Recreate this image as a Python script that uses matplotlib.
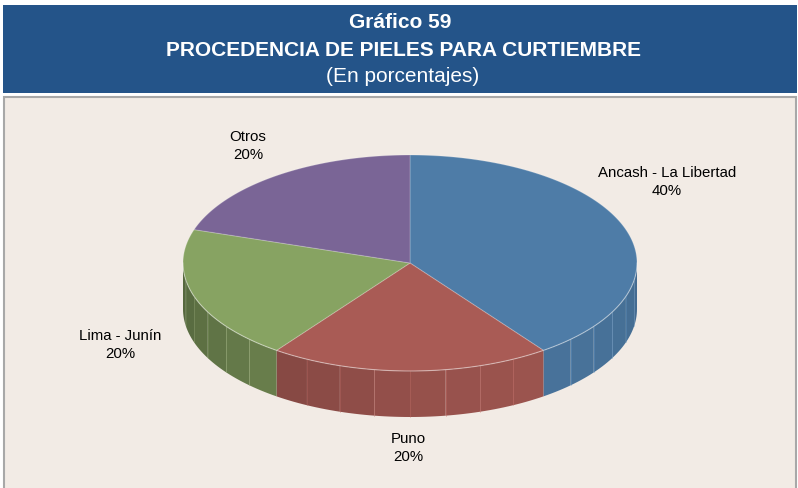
import numpy as np
import matplotlib
matplotlib.use("Agg")
import matplotlib.pyplot as plt
from matplotlib.patches import Rectangle, Polygon

plt.rcParams['font.family'] = ['Liberation Sans', 'DejaVu Sans']

# data
regions = ["Ancash - La Libertad", "Puno", "Lima - Junín", "Otros"]
shares = [40, 20, 20, 20]
top_colors = ["#4e7ca7", "#a95b55", "#87a362", "#7a6596"]
label_pos = [(667, 182), (408, 448), (120, 345), (248, 146)]

title_lines = ["Gráfico 59", "PROCEDENCIA DE PIELES PARA CURTIEMBRE", "(En porcentajes)"]

W, H = 798, 488
fig = plt.figure(figsize=(W / 100, H / 100), dpi=100)
ax = fig.add_axes([0, 0, 1, 1])
ax.set_xlim(0, W)
ax.set_ylim(H, 0)
ax.axis("off")

# header band and chart panel
ax.add_patch(Rectangle((3, 5), W - 4, 88, facecolor="#245489", edgecolor="none"))
ax.add_patch(Rectangle((4, 96.5), W - 6, H, facecolor="#f2ebe5",
                       edgecolor="#a8a8a8", linewidth=1.5))
ax.text(400, 23, title_lines[0], ha="center", va="center", color="white",
        fontsize=15, fontweight="bold")
ax.text(403, 51, title_lines[1], ha="center", va="center", color="white",
        fontsize=15, fontweight="bold")
ax.text(403, 77, title_lines[2], ha="center", va="center", color="white",
        fontsize=15)

# 3d pie geometry (pixel units)
cx, cy, rx, ry, depth = 410, 263, 227, 108, 46


def rim(theta_deg):
    t = np.radians(theta_deg)
    return cx + rx * np.cos(t), cy - ry * np.sin(t)


def shade(color, theta):
    rgb = np.array(matplotlib.colors.to_rgb(color))
    f = 0.74 + 0.18 * np.cos(np.radians(theta + 50))
    return tuple(np.clip(rgb * f, 0, 1))


total = sum(shares)
angles = [90]
for s in shares:
    angles.append(angles[-1] - 360 * s / total)

# side walls (only the front half of the rim is visible)
for i, col in enumerate(top_colors):
    a_end, a_start = angles[i], angles[i + 1]
    lo, hi = max(a_start, -180), min(a_end, 0)
    if lo >= hi:
        continue
    edges = np.arange(lo, hi, 9.0).tolist() + [hi]
    for k in range(len(edges) - 1):
        t0, t1 = edges[k], edges[k + 1]
        ts = np.linspace(t0, t1, 8)
        xs, ys = rim(ts)
        pts = list(zip(xs, ys)) + list(zip(xs[::-1], ys[::-1] + depth))
        c = shade(col, (t0 + t1) / 2)
        ax.add_patch(Polygon(pts, closed=True, facecolor=c, edgecolor="none"))
        if k > 0:
            x0, y0 = rim(t0)
            light = tuple(min(1, v * 1.25 + 0.05) for v in c)
            ax.plot([x0, x0], [y0, y0 + depth], color=light, lw=0.6, alpha=0.4)

# top faces
for i, col in enumerate(top_colors):
    ts = np.linspace(angles[i], angles[i + 1], 120)
    xs, ys = rim(ts)
    pts = [(cx, cy)] + list(zip(xs, ys))
    ax.add_patch(Polygon(pts, closed=True, facecolor=col,
                         edgecolor=(1, 1, 1, 0.2), linewidth=0.8))

# light edge along the front rim
ts = np.linspace(-180, 0, 200)
xs, ys = rim(ts)
ax.plot(xs, ys, color=(1, 1, 1, 0.3), lw=0.8)

# labels
for name, val, (lx, ly) in zip(regions, shares, label_pos):
    ax.text(lx, ly, f"{name}\n{val}%", ha="center", va="center",
            fontsize=10.8, color="black", linespacing=1.4)

fig.savefig("out.png", dpi=100, facecolor="white")
